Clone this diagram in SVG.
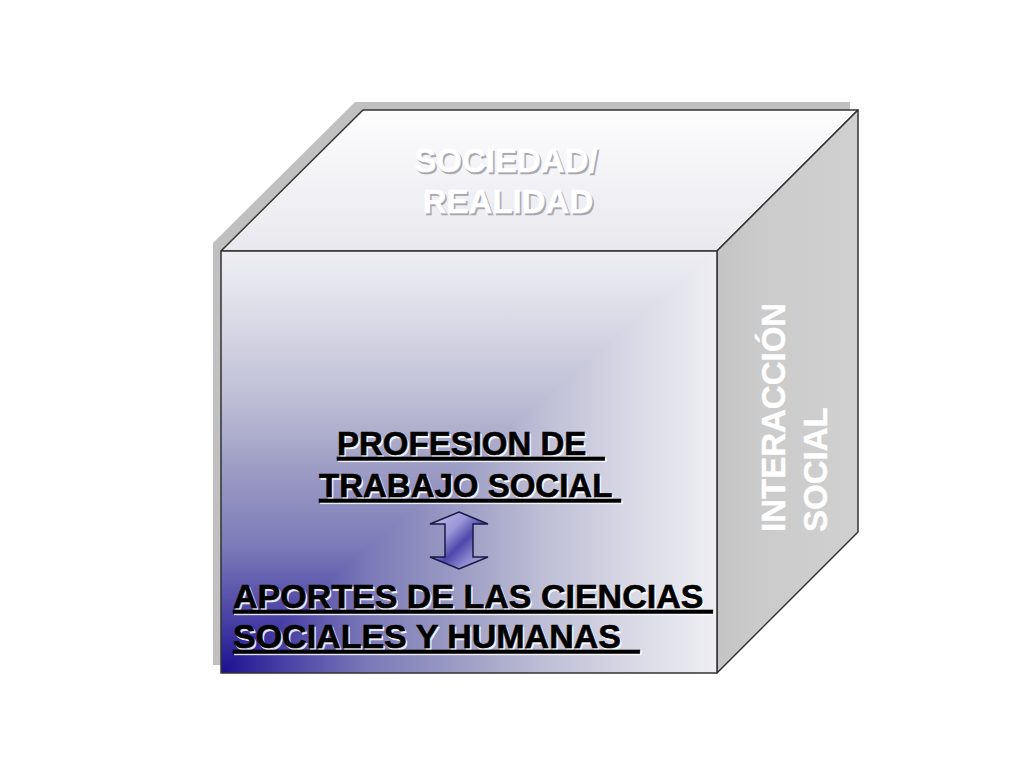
<svg xmlns="http://www.w3.org/2000/svg" width="1024" height="768" viewBox="0 0 1024 768">
  <defs>
    <style>
      .edge { stroke: #333333; stroke-width: 1.5; stroke-linejoin: round; }
      .lbl { font-family: "Liberation Sans", Arial, sans-serif; font-weight: bold; }
      .dark { fill: #000000; stroke: #000000; stroke-width: 0.6; text-decoration: underline; }
      .glow { fill: #ffffff; fill-opacity: 0.85; stroke: #ffffff; stroke-opacity: 0.85; stroke-width: 0.6; text-decoration: underline; }
      .emb { fill: #ffffff; stroke: #ffffff; stroke-width: 0.4; }
      .embsh { fill: #a8a8ae; stroke: #a8a8ae; stroke-width: 0.6; }
    </style>
    <linearGradient id="gH" gradientUnits="userSpaceOnUse" x1="221" y1="0" x2="717" y2="0">
      <stop offset="0" stop-color="#1c1090"/>
      <stop offset="0.12" stop-color="#463ea4"/>
      <stop offset="0.3" stop-color="#7c7ab8"/>
      <stop offset="0.5" stop-color="#a0a0c6"/>
      <stop offset="0.65" stop-color="#bebed6"/>
      <stop offset="0.85" stop-color="#dcdce8"/>
      <stop offset="1" stop-color="#eeeef3"/>
    </linearGradient>
    <linearGradient id="gV" gradientUnits="userSpaceOnUse" x1="0" y1="673" x2="0" y2="251">
      <stop offset="0" stop-color="#1c1090"/>
      <stop offset="0.12" stop-color="#463ea4"/>
      <stop offset="0.3" stop-color="#7c7ab8"/>
      <stop offset="0.5" stop-color="#a0a0c6"/>
      <stop offset="0.65" stop-color="#bebed6"/>
      <stop offset="0.85" stop-color="#dcdce8"/>
      <stop offset="1" stop-color="#eeeef3"/>
    </linearGradient>
    <linearGradient id="gTop" x1="0" y1="0" x2="0" y2="1">
      <stop offset="0" stop-color="#fdfdfe"/>
      <stop offset="1" stop-color="#e8e8ee"/>
    </linearGradient>
    <linearGradient id="gSide" x1="0" y1="0" x2="1" y2="0">
      <stop offset="0" stop-color="#c4c4c4"/>
      <stop offset="0.3" stop-color="#cbcbcb"/>
      <stop offset="1" stop-color="#d0d0d0"/>
    </linearGradient>
    <linearGradient id="gArrow" x1="0" y1="0" x2="1" y2="1">
      <stop offset="0" stop-color="#c4c4ec"/>
      <stop offset="0.35" stop-color="#9a96d8"/>
      <stop offset="0.55" stop-color="#4e46aa"/>
      <stop offset="0.75" stop-color="#8e8ad0"/>
      <stop offset="1" stop-color="#b4b2e0"/>
    </linearGradient>
  </defs>

  <rect x="0" y="0" width="1024" height="768" fill="#ffffff"/>

  <g id="shadow">
    <polygon points="213,243 355,102 850,102 850,524 709,665 213,665" fill="#c0c0c0"/>
  </g>

  <g id="top-face">
    <polygon class="edge" points="221,251 363,110 858,110 717,251" fill="url(#gTop)"/>
    <text class="lbl embsh" font-size="33" text-anchor="middle" x="507.5" y="173.5">SOCIEDAD/</text>
    <text class="lbl embsh" font-size="33" text-anchor="middle" x="509.5" y="214.5">REALIDAD</text>
    <text class="lbl emb" font-size="33" text-anchor="middle" x="506" y="172">SOCIEDAD/</text>
    <text class="lbl emb" font-size="33" text-anchor="middle" x="508" y="213">REALIDAD</text>
  </g>

  <g id="side-face">
    <polygon class="edge" points="717,251 858,110 858,532 717,673" fill="url(#gSide)"/>
    <g transform="translate(785,532) rotate(-90)">
      <text class="lbl emb" font-size="33" x="0" y="0">INTERACCIÓN</text>
      <text class="lbl emb" font-size="33" x="0" y="42">SOCIAL</text>
    </g>
  </g>

  <g id="front-face">
    <rect x="221" y="251" width="496" height="422" fill="url(#gH)"/>
    <polygon points="221,673 221,251 717,251" fill="url(#gV)"/>
    <rect class="edge" x="221" y="251" width="496" height="422" fill="none"/>
  </g>

  <g id="profesion">
    <text class="lbl glow" font-size="33" xml:space="preserve" x="338.5" y="456.5">PROFESION DE  </text>
    <text class="lbl glow" font-size="33" xml:space="preserve" x="320.5" y="498.5">TRABAJO SOCIAL </text>
    <text class="lbl dark" font-size="33" xml:space="preserve" x="337" y="455">PROFESION DE  </text>
    <text class="lbl dark" font-size="33" xml:space="preserve" x="319" y="497">TRABAJO SOCIAL </text>
  </g>

  <g id="aportes">
    <text class="lbl glow" font-size="34" xml:space="preserve" x="234.5" y="609.5">APORTES DE LAS CIENCIAS </text>
    <text class="lbl glow" font-size="34" xml:space="preserve" x="234.5" y="649.5">SOCIALES Y HUMANAS  </text>
    <text class="lbl dark" font-size="34" xml:space="preserve" x="233" y="608">APORTES DE LAS CIENCIAS </text>
    <text class="lbl dark" font-size="34" xml:space="preserve" x="233" y="648">SOCIALES Y HUMANAS  </text>
  </g>

  <g id="connectors">
    <polygon points="459,512 488,524 473,524 473,557 488,557 459,569 430,557 445,557 445,524 430,524" fill="url(#gArrow)" stroke="#1a1a44" stroke-width="1.5" stroke-linejoin="miter"/>
  </g>
</svg>
